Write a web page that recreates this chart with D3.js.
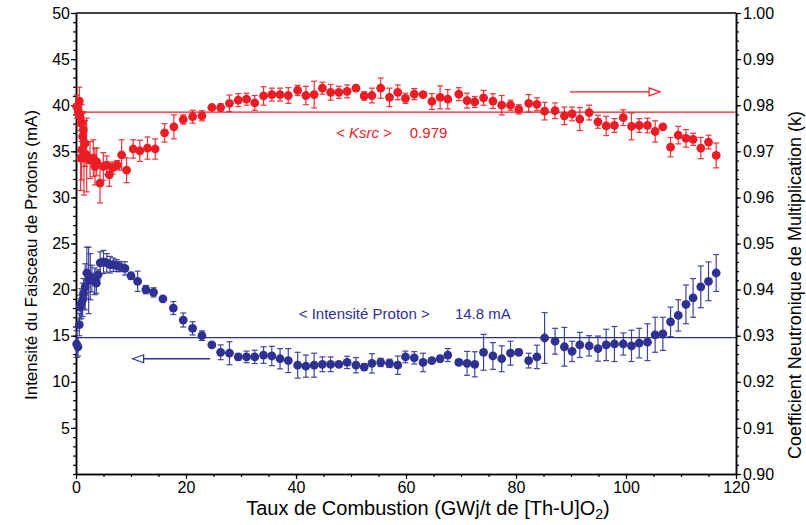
<!DOCTYPE html>
<html>
<head>
<meta charset="utf-8">
<script src="https://cdn.jsdelivr.net/npm/d3@7"></script>
<style>
  body { margin: 0; background: #fff; }
  text { font-family: "Liberation Sans", Arial, sans-serif; }
</style>
</head>
<body>
<svg id="chart" width="806" height="525"></svg>
<script>
// k (Ksrc) series, right axis
let kBurnup = [0.12, 0.6, 0.42, 0.73, 1.03, 1.33, 1.2, 1.64, 1.03, 0.85, 1.45, 1.94, 2.55, 3.15, 3.76, 3.45, 4.36, 4.97, 5.58, 6.06,
  6.67, 7.5, 8.3, 9.2, 10.4, 11.6, 13.0, 14.4, 16.1, 17.8,
  19.5, 21.2, 22.9, 24.7, 26.3, 27.9, 29.5, 31.0, 32.5, 34.1, 35.6, 37.1, 38.6, 40.3, 41.8, 43.3, 44.8, 46.3, 47.8, 49.3,
  50.9, 52.4, 53.8, 55.4, 57.0, 58.5, 59.9, 61.5, 63.1, 64.7, 66.2, 67.6, 69.6, 71.1, 72.5, 74.1, 75.8, 77.4, 79.0, 80.5,
  82.3, 83.8, 85.2, 87.1, 88.8, 90.2, 91.6, 93.3, 94.9, 96.4, 97.9, 99.5, 101.0, 102.4, 103.9, 105.3, 106.7, 108.1, 109.5, 110.9,
  112.2, 113.6, 115.0, 116.4]
let kValues = [0.9797, 0.9809, 0.9786, 0.9775, 0.9761, 0.9746, 0.9732, 0.9717, 0.9703, 0.9685, 0.9685, 0.9692, 0.9681, 0.9685, 0.9677, 0.9667, 0.9631, 0.9667, 0.9670, 0.9649,
  0.9664, 0.9670, 0.9692, 0.9659, 0.9705, 0.9701, 0.9707, 0.9705, 0.9740, 0.9753,
  0.9769, 0.9775, 0.9777, 0.9795, 0.9795, 0.9804, 0.9811, 0.9813, 0.9805, 0.9820, 0.9823, 0.9823, 0.9821, 0.9832, 0.9821, 0.9823, 0.9837, 0.9828, 0.9828, 0.9830,
  0.9837, 0.9820, 0.9821, 0.9837, 0.9817, 0.9828, 0.9815, 0.9824, 0.9823, 0.9808, 0.9817, 0.9813, 0.9824, 0.9810, 0.9807, 0.9816, 0.9809, 0.9800, 0.9800, 0.9791,
  0.9804, 0.9802, 0.9787, 0.9788, 0.9777, 0.9781, 0.9770, 0.9784, 0.9764, 0.9755, 0.9756, 0.9773, 0.9754, 0.9756, 0.9756, 0.9743, 0.9753, 0.9709, 0.9735, 0.9728,
  0.9726, 0.9707, 0.9720, 0.9691]
let kErrors = [0.0025, 0.003, 0.003, 0.003, 0.004, 0.004, 0.005, 0.005, 0.0065, 0.007, 0.008, 0.008, 0.004, 0.004, 0.003, 0.004, 0.0043, 0.003, 0.002, 0.0025,
  0.0013, 0.001, 0.0033, 0.0027, 0.002, 0.0023, 0.0024, 0.0022, 0.002, 0.0026,
  0.001, 0.0014, 0.0011, 0.0003, 0.0008, 0.0018, 0.0014, 0.0013, 0.0016, 0.002, 0.0014, 0.0014, 0.0017, 0.0011, 0.002, 0.0029, 0.0013, 0.0017, 0.0013, 0.0014,
  0.0006, 0.0009, 0.0016, 0.0022, 0.002, 0.0016, 0.0011, 0.0012, 0.0003, 0.0017, 0.0025, 0.0021, 0.0014, 0.0016, 0.0012, 0.0016, 0.0016, 0.0021, 0.0011, 0.001,
  0.0019, 0.0014, 0.0019, 0.0017, 0.0019, 0.0015, 0.0025, 0.0016, 0.0014, 0.0021, 0.0015, 0.0017, 0.0029, 0.0015, 0.0016, 0.0023, 0.0003, 0.0021, 0.0019, 0.0019,
  0.0013, 0.0023, 0.0015, 0.0027]

// proton intensity series, left axis
let iBurnup = [0.12, 0.36, 0.6, 0.76, 0.97, 1.2, 1.36, 1.67, 1.97, 2.3, 2.6, 2.9, 3.4, 3.7, 4.0, 4.4, 5.0, 5.6, 6.2, 6.8,
  7.4, 8.0, 8.9, 10.0, 11.2, 12.7, 14.1, 15.8, 17.7,
  19.5, 21.2, 22.9, 24.7, 26.3, 27.9, 29.5, 31.0, 32.5, 34.1, 35.6, 37.1, 38.6, 40.3, 41.8, 43.3, 44.8, 46.3, 47.8, 49.3,
  50.9, 52.4, 53.8, 55.4, 57.0, 58.5, 59.9, 61.5, 63.1, 64.7, 66.2, 67.6, 69.6, 71.1, 72.5, 74.1, 75.8, 77.4, 79.0, 80.5,
  82.3, 83.8, 85.2, 87.1, 88.8, 90.2, 91.6, 93.3, 94.9, 96.4, 97.9, 99.5, 101.0, 102.4, 103.9, 105.3, 106.7, 108.1, 109.5, 110.9,
  112.2, 113.6, 115.0, 116.4]
let intensity = [14.1, 13.8, 16.2, 18.1, 18.5, 18.9, 19.6, 20.3, 21.8, 21.0, 21.4, 21.2, 20.9, 20.7, 21.6, 22.9, 23.0, 22.9, 22.7, 22.7,
  22.6, 22.5, 22.3, 21.5, 20.9, 20.0, 19.7, 19.0, 18.0,
  16.7, 15.8, 15.0, 14.0, 13.2, 13.1, 12.7, 12.7, 12.7, 12.9, 12.8, 12.5, 12.3, 11.8, 11.7, 11.8, 11.9, 11.9, 11.9, 12.1,
  11.8, 11.6, 12.0, 12.1, 12.0, 11.8, 12.7, 12.6, 12.1, 12.3, 12.5, 12.9, 12.1, 12.0, 11.9, 13.2, 12.8, 12.5, 13.1, 13.2,
  12.3, 12.7, 14.75, 14.4, 13.8, 13.3, 14.0, 13.9, 13.6, 14.0, 14.1, 14.1, 13.9, 14.2, 14.3, 15.1, 15.2, 16.5, 17.2, 18.4,
  19.1, 20.3, 20.9, 21.8]
let intensityErr = [1.45, 1.0, 1.2, 1.3, 1.6, 1.8, 1.6, 2.5, 2.8, 3.6, 2.5, 1.45, 1.45, 1.1, 0.55, 1.2, 1.25, 1.0, 0.9, 0.72,
  0.65, 0.55, 0.72, 0.36, 1.1, 0.45, 0.5, 0.15, 0.7,
  0.76, 0.72, 0.52, 0.1, 0.8, 1.25, 0.36, 0.63, 0.72, 0.9, 1.05, 1.1, 1.3, 1.4, 1.2, 1.3, 0.8, 0.8, 0.1, 0.67,
  0.83, 0.36, 1.05, 0.45, 0.45, 1.0, 0.63, 0.67, 1.0, 0.27, 0.33, 0.7, 0.3, 1.3, 1.36, 1.95, 1.45, 1.4, 1.3, 0.33,
  0.8, 1.27, 2.75, 1.4, 2.1, 1.1, 1.36, 1.1, 1.36, 1.7, 1.9, 1.2, 1.7, 1.6, 2.0, 1.9, 1.8, 1.6, 1.7, 2.1,
  2.1, 2.26, 2.1, 2.0]

let ksrcMean = 0.9785
let intensityMean = 14.8

let leftTicks = [5, 10, 15, 20, 25, 30, 35, 40, 45, 50]
let rightTicks = [0.90, 0.91, 0.92, 0.93, 0.94, 0.95, 0.96, 0.97, 0.98, 0.99, 1.00]
let bottomTicks = [0, 20, 40, 60, 80, 100, 120]

let red = '#ec1c24'
let blue = '#2e3192'

let svg = d3.select('#chart')

let x = d3.scaleLinear().domain([0, 120]).range([76, 736])
let yI = d3.scaleLinear().domain([0, 50]).range([474, 13])
let yK = d3.scaleLinear().domain([0.90, 1.00]).range([474, 13])

// axes
let styleAxis = (g) => {
    g.selectAll('path').attr('stroke', '#000').attr('stroke-width', 1.5)
    g.selectAll('line').attr('stroke', '#000').attr('stroke-width', 1.2)
    g.selectAll('text').attr('font-size', 16).attr('fill', '#000')
        .attr('font-family', '"Liberation Sans", Arial, sans-serif')
}

svg.append('g').attr('transform', 'translate(76,0)')
    .call(d3.axisLeft(yI).tickValues(d3.range(0, 51, 1)).tickSize(3).tickFormat('').tickSizeOuter(0))
    .call(styleAxis)
svg.append('g').attr('transform', 'translate(76,0)')
    .call(d3.axisLeft(yI).tickValues(leftTicks).tickSize(5).tickPadding(1).tickSizeOuter(0))
    .call(styleAxis)

svg.append('g').attr('transform', 'translate(736,0)')
    .call(d3.axisRight(yK).tickValues(d3.range(0, 51).map(i => 0.90 + i * 0.002)).tickSize(3).tickFormat('').tickSizeOuter(0))
    .call(styleAxis)
svg.append('g').attr('transform', 'translate(736,0)')
    .call(d3.axisRight(yK).tickValues(rightTicks).tickSize(5).tickPadding(2).tickFormat(d3.format('.2f')).tickSizeOuter(0))
    .call(styleAxis)

svg.append('g').attr('transform', 'translate(0,474)')
    .call(d3.axisBottom(x).tickValues(d3.range(0, 121, 5)).tickSize(3).tickFormat('').tickSizeOuter(0))
    .call(styleAxis)
svg.append('g').attr('transform', 'translate(0,474)')
    .call(d3.axisBottom(x).tickValues(bottomTicks).tickSize(5).tickPadding(3).tickSizeOuter(0))
    .call(styleAxis)

svg.append('line')
    .attr('x1', x(0)).attr('x2', x(120)).attr('y1', yI(50)).attr('y2', yI(50))
    .attr('stroke', '#000').attr('stroke-width', 1.5)

// mean lines
svg.append('line')
    .attr('x1', x(0)).attr('x2', x(120)).attr('y1', yK(ksrcMean)).attr('y2', yK(ksrcMean))
    .attr('stroke', red).attr('stroke-width', 1.3)
svg.append('line')
    .attr('x1', x(0)).attr('x2', x(120)).attr('y1', yI(intensityMean)).attr('y2', yI(intensityMean))
    .attr('stroke', blue).attr('stroke-width', 1.3)

// points with error bars
let drawSeries = (xs, vals, errs, yScale, color) => {
    let data = xs.map((d, i) => ({ x: d, v: vals[i], e: errs[i] }))
    let g = svg.append('g')
    let bars = g.selectAll('g.bar').data(data).enter().append('g')
        .attr('stroke', color).attr('stroke-width', 1.2).attr('opacity', 0.9)
    bars.append('line')
        .attr('x1', d => x(d.x)).attr('x2', d => x(d.x))
        .attr('y1', d => yScale(d.v - d.e)).attr('y2', d => yScale(d.v + d.e))
    bars.append('line')
        .attr('x1', d => x(d.x) - 3).attr('x2', d => x(d.x) + 3)
        .attr('y1', d => yScale(d.v - d.e)).attr('y2', d => yScale(d.v - d.e))
    bars.append('line')
        .attr('x1', d => x(d.x) - 3).attr('x2', d => x(d.x) + 3)
        .attr('y1', d => yScale(d.v + d.e)).attr('y2', d => yScale(d.v + d.e))
    g.selectAll('circle').data(data).enter().append('circle')
        .attr('cx', d => x(d.x))
        .attr('cy', d => yScale(d.v))
        .attr('r', 4.4)
        .attr('fill', color)
}

drawSeries(kBurnup, kValues, kErrors, yK, red)
drawSeries(iBurnup, intensity, intensityErr, yI, blue)

// arrows
let arrow = (xFrom, xTo, yv, yScale, color) => {
    let dir = xTo > xFrom ? 1 : -1
    let tip = x(xTo)
    let base = tip - dir * 11
    let py = yScale(yv)
    svg.append('line')
        .attr('x1', x(xFrom)).attr('x2', base).attr('y1', py).attr('y2', py)
        .attr('stroke', color).attr('stroke-width', 1.3)
    svg.append('path')
        .attr('d', `M${tip},${py} L${base},${py - 4} L${base},${py + 4} Z`)
        .attr('fill', '#fff').attr('stroke', color).attr('stroke-width', 1.2)
}
arrow(89.8, 106.2, 0.9829, yK, red)
arrow(24.4, 10.3, 12.5, yI, blue)

// annotations
let ksrcLabel = svg.append('text')
    .attr('x', x(47.3)).attr('y', yK(0.9729))
    .attr('font-size', 15).attr('fill', red)
ksrcLabel.append('tspan').text('< ')
ksrcLabel.append('tspan').attr('font-style', 'italic').text('Ksrc')
ksrcLabel.append('tspan').text(' >')
svg.append('text')
    .attr('x', x(60.7)).attr('y', yK(0.9729))
    .attr('font-size', 15).attr('fill', red)
    .text('0.979')

svg.append('text')
    .attr('x', x(40.5)).attr('y', yI(16.8))
    .attr('font-size', 15).attr('fill', blue)
    .text('< Intensité Proton >')
svg.append('text')
    .attr('x', x(68.9)).attr('y', yI(16.8))
    .attr('font-size', 15).attr('fill', blue)
    .text('14.8 mA')

// axis titles
let xTitle = svg.append('text')
    .attr('x', 428).attr('y', 515)
    .attr('text-anchor', 'middle')
    .attr('font-size', 20).attr('fill', '#000')
xTitle.append('tspan').text('Taux de Combustion (GWj/t de [Th-U]O')
xTitle.append('tspan').attr('font-size', 14).attr('dy', 4).text('2')
xTitle.append('tspan').attr('dy', -4).text(')')

svg.append('text')
    .attr('transform', 'translate(37,255) rotate(-90)')
    .attr('text-anchor', 'middle')
    .attr('font-size', 17).attr('fill', '#000')
    .text('Intensité du Faisceau de Protons (mA)')

svg.append('text')
    .attr('transform', 'translate(801,285) rotate(-90)')
    .attr('text-anchor', 'middle')
    .attr('font-size', 18).attr('fill', '#000')
    .text('Coefficient Neutronique de Multiplication (k)')
</script>
</body>
</html>
